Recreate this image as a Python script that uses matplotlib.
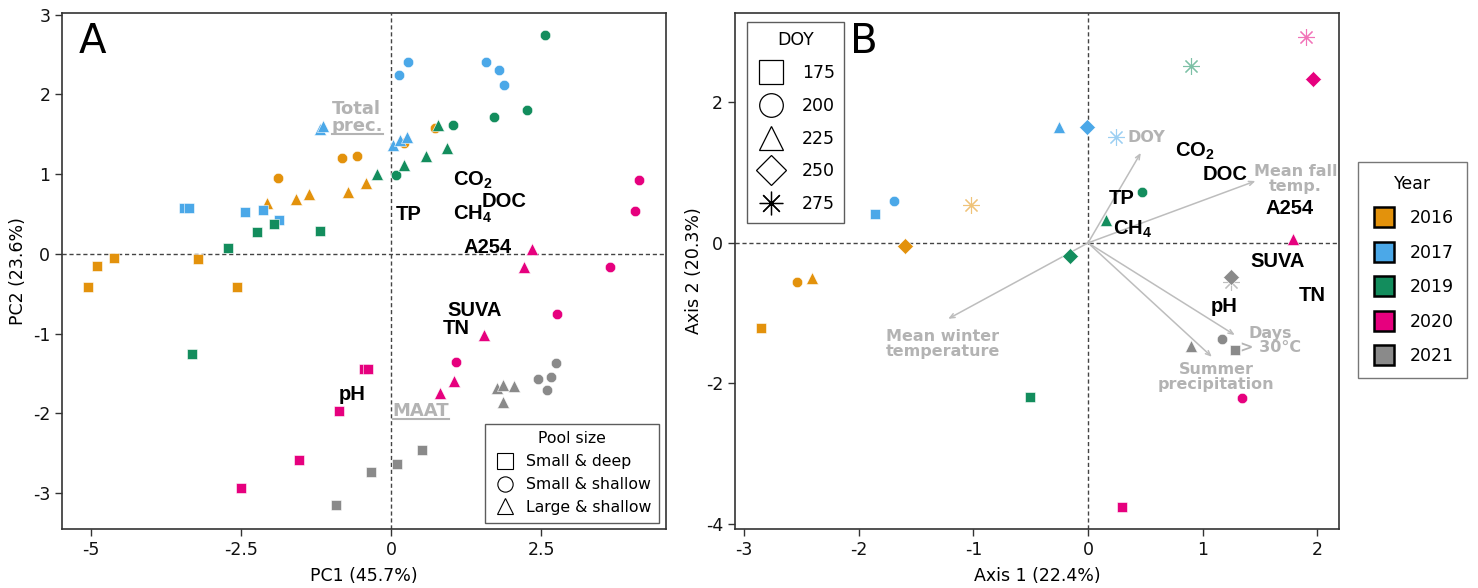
import matplotlib
matplotlib.use('Agg')
import matplotlib.pyplot as plt
from matplotlib.lines import Line2D

plt.rcParams['font.family'] = ['DejaVu Sans']
plt.rcParams['axes.unicode_minus'] = False
plt.rcParams['mathtext.fontset'] = 'custom'
plt.rcParams['mathtext.default'] = 'regular'

years = ['2016', '2017', '2019', '2020', '2021']
year_colors = ['#E3920C', '#4BA8E8', '#138D5D', '#E6007E', '#8A8A8A']

# ---- panel A: PCA scores ----
pool_sizes = ['Small & deep', 'Small & shallow', 'Large & shallow']
pool_markers = ['s', 'o', '^']
pca_year = ['2016'] * 15 + ['2017'] * 15 + ['2019'] * 15 + ['2020'] * 15 + ['2021'] * 12
pca_pool = [p for p in pool_sizes for _ in range(5)] * 4 + [p for p in pool_sizes for _ in range(4)]
pca_x = [-4.62, -4.89, -3.21, -5.04, -2.56, 0.21, 0.73, -0.82, -0.57, -1.88, -0.41, -0.71, -1.37, -1.59, -2.07,
         -3.45, -3.36, -2.44, -2.13, -1.87, 0.14, 0.29, 1.58, 1.80, 1.88, -1.18, -1.13, 0.03, 0.15, 0.27,
         -1.95, -2.23, -1.18, -2.71, -3.31, 0.09, 1.03, 1.72, 2.26, 2.57, -0.24, 0.21, 0.58, 0.94, 0.79,
         -0.45, -0.38, -0.87, -1.53, -2.50, 4.13, 4.06, 3.65, 2.77, 1.09, 2.35, 2.21, 1.55, 1.05, 0.82,
         0.52, 0.10, -0.33, -0.92, 2.74, 2.44, 2.67, 2.60, 1.76, 1.87, 2.04, 1.87]
pca_y = [-0.05, -0.15, -0.06, -0.42, -0.42, 1.39, 1.58, 1.20, 1.23, 0.95, 0.89, 0.78, 0.75, 0.69, 0.64,
         0.575, 0.575, 0.525, 0.55, 0.425, 2.24, 2.40, 2.40, 2.31, 2.12, 1.57, 1.60, 1.37, 1.43, 1.47,
         0.37, 0.28, 0.29, 0.07, -1.25, 0.99, 1.61, 1.72, 1.81, 2.74, 1.00, 1.12, 1.23, 1.33, 1.62,
         -1.44, -1.44, -1.97, -2.58, -2.93, 0.92, 0.54, -0.17, -0.75, -1.35, 0.06, -0.17, -1.02, -1.59, -1.74,
         -2.46, -2.64, -2.73, -3.15, -1.37, -1.57, -1.55, -1.71, -1.68, -1.65, -1.66, -1.86]

pca_vars = ['TP', 'CO$_2$', 'DOC', 'CH$_4$', 'A254', 'SUVA', 'TN', 'pH']
pca_var_x = [0.08, 1.03, 1.51, 1.04, 1.20, 0.94, 0.86, -0.88]
pca_var_y = [0.43, 0.86, 0.59, 0.425, 0.01, -0.78, -1.01, -1.83]
pca_env = ['Total', 'prec.', 'MAAT']
pca_env_x = [-0.99, -0.99, 0.03]
pca_env_y = [1.75, 1.54, -2.03]
pca_env_ul = [False, True, True]

# ---- panel B: ordination by DOY ----
doys = ['175', '200', '225', '250', '275']
doy_markers = ['s', 'o', '^', 'D', (8, 2, 0)]
ord_year = [y for y in years for _ in range(5)]
ord_doy = doys * 5
ord_x = [-2.85, -2.54, -2.41, -1.60, -1.02,
         -1.86, -1.69, -0.25, -0.01, 0.24,
         -0.51, 0.47, 0.16, -0.16, 0.90,
         0.30, 1.34, 1.79, 1.96, 1.90,
         1.28, 1.17, 0.90, 1.25, 1.25]
ord_y = [-1.21, -0.56, -0.50, -0.05, 0.54,
         0.41, 0.59, 1.65, 1.65, 1.51,
         -2.19, 0.72, 0.33, -0.18, 2.51,
         -3.76, -2.20, 0.05, 2.33, 2.93,
         -1.52, -1.36, -1.47, -0.49, -0.55]

ord_vars = ['CO$_2$', 'DOC', 'TP', 'CH$_4$', 'A254', 'SUVA', 'TN', 'pH']
ord_var_x = [0.76, 1.00, 0.18, 0.22, 1.55, 1.42, 1.84, 1.07]
ord_var_y = [1.23, 0.90, 0.55, 0.11, 0.41, -0.34, -0.83, -0.98]

env_names = ['DOY', 'Mean fall\ntemp.', 'Mean winter\ntemperature', 'Days\n> 30°C', 'Summer\nprecipitation']
env_x = [0.46, 1.46, -1.22, 1.28, 1.08]
env_y = [1.28, 0.88, -1.08, -1.31, -1.62]
env_lab_x = [0.34, 1.81, -1.27, 1.59, 1.12]
env_lab_y = [1.50, 0.91, -1.44, -1.39, -1.91]
env_lab_ha = ['left', 'center', 'center', 'center', 'center']

gray_txt = '#B3B3B3'
spine_col = '#333333'

fig = plt.figure(figsize=(14.78, 5.88), dpi=100)
axA = fig.add_axes([0.042, 0.1003, 0.4086, 0.8776])
axB = fig.add_axes([0.4973, 0.1003, 0.4087, 0.8776])

for ax in (axA, axB):
    for s in ax.spines.values():
        s.set_color(spine_col)
        s.set_linewidth(1.2)
    ax.tick_params(labelsize=12.5, length=5, width=1, color=spine_col, labelcolor='#111111')
    ax.axhline(0, color='#444444', lw=1, ls=(0, (3, 2)), zorder=1)
    ax.axvline(0, color='#444444', lw=1, ls=(0, (3, 2)), zorder=1)

# panel A
axA.set_xlim(-5.48, 4.58)
axA.set_ylim(-3.45, 3.02)
axA.set_xticks([-5, -2.5, 0, 2.5])
axA.set_xticklabels(['-5', '-2.5', '0', '2.5'])
axA.set_yticks([-3, -2, -1, 0, 1, 2, 3])
axA.set_xlabel('PC1 (45.7%)', fontsize=12.5, labelpad=6)
axA.set_ylabel('PC2 (23.6%)', fontsize=12.5, labelpad=4)

for yr, col in zip(years, year_colors):
    for pool, mk in zip(pool_sizes, pool_markers):
        xs = [x for x, a, b in zip(pca_x, pca_year, pca_pool) if a == yr and b == pool]
        ys = [y for y, a, b in zip(pca_y, pca_year, pca_pool) if a == yr and b == pool]
        ms = 8.5 if mk == '^' else 7.5
        axA.plot(xs, ys, ls='none', marker=mk, ms=ms, color=col, mec='white', mew=0.4, zorder=3)

for name, x, y in zip(pca_vars, pca_var_x, pca_var_y):
    axA.text(x, y, name, fontsize=14.5, fontweight='bold', family='Liberation Sans',
             va='baseline', ha='left', zorder=4)

axA.text(0.028, 0.922, 'A', transform=axA.transAxes, fontsize=29, va='baseline', ha='left')

pool_handles = [Line2D([], [], ls='none', marker=m, ms=11, mfc='none', mec='black', mew=0.8)
                for m in pool_markers]
legA = axA.legend(pool_handles, pool_sizes, title='Pool size', loc='lower right',
                  bbox_to_anchor=(0.988, 0.012), borderaxespad=0, fancybox=False,
                  edgecolor=spine_col, fontsize=11.3, title_fontsize=11.3, labelspacing=0.5,
                  handletextpad=0.5, borderpad=0.5, handlelength=1.6)
legA.get_frame().set_linewidth(1)

# panel B
axB.set_xlim(-3.08, 2.19)
axB.set_ylim(-4.07, 3.27)
axB.set_xticks([-3, -2, -1, 0, 1, 2])
axB.set_yticks([-4, -2, 0, 2])
axB.set_xlabel('Axis 1 (22.4%)', fontsize=12.5, labelpad=6)
axB.set_ylabel('Axis 2 (20.3%)', fontsize=12.5, labelpad=2)

for ex, ey in zip(env_x, env_y):
    axB.annotate('', xy=(ex, ey), xytext=(0, 0), zorder=2,
                 arrowprops=dict(arrowstyle='->,head_length=0.35,head_width=0.15',
                                 color='#BDBDBD', lw=1.1, shrinkA=0, shrinkB=0))
for name, x, y, ha in zip(env_names, env_lab_x, env_lab_y, env_lab_ha):
    axB.text(x, y, name, fontsize=11.5, fontweight='bold', color=gray_txt, ha=ha,
             va='center', linespacing=0.95, zorder=2)

for doy, mk in zip(doys[::-1], doy_markers[::-1]):
    for yr, col in zip(years, year_colors):
        xs = [x for x, a, b in zip(ord_x, ord_year, ord_doy) if a == yr and b == doy]
        ys = [y for y, a, b in zip(ord_y, ord_year, ord_doy) if a == yr and b == doy]
        if doy == '275':
            axB.plot(xs, ys, ls='none', marker=mk, ms=12, color=col, mew=0.8, alpha=0.55, zorder=3)
        else:
            ms = {'s': 7, 'o': 7.5, '^': 8.5, 'D': 8}[mk]
            axB.plot(xs, ys, ls='none', marker=mk, ms=ms, color=col, mec='white', mew=0.4, zorder=3)

for name, x, y in zip(ord_vars, ord_var_x, ord_var_y):
    axB.text(x, y, name, fontsize=14.5, fontweight='bold', family='Liberation Sans',
             va='baseline', ha='left', zorder=4)

axB.text(0.19, 0.922, 'B', transform=axB.transAxes, fontsize=29, va='baseline', ha='left')

doy_handles = [Line2D([], [], ls='none', marker=m, ms=17 if m != 'D' else 15, mfc='none',
                      mec='black', mew=0.9, color='black')
               for m in doy_markers]
legB = axB.legend(doy_handles, doys, title='DOY', loc='upper left', bbox_to_anchor=(0.02, 0.983),
                  borderaxespad=0, fancybox=False, edgecolor=spine_col, fontsize=12.5,
                  title_fontsize=12.5, labelspacing=0.85, handletextpad=1.0, borderpad=0.55,
                  handlelength=1.6)
legB.get_frame().set_linewidth(1)

year_handles = [Line2D([], [], ls='none', marker='s', ms=14, mfc=c, mec='black', mew=1.8)
                for c in year_colors]
legY = fig.legend(year_handles, years, title='Year', loc='center left', bbox_to_anchor=(0.919, 0.541),
                  borderaxespad=0, fancybox=False, edgecolor='#555555', fontsize=12.5,
                  title_fontsize=12.5, labelspacing=0.95, handletextpad=0.7, borderpad=0.75,
                  handlelength=1.5)
legY.get_frame().set_linewidth(1)

# gray environmental labels in panel A, some underlined
fig.canvas.draw()
for name, x, y, ul in zip(pca_env, pca_env_x, pca_env_y, pca_env_ul):
    t = axA.text(x, y, name, fontsize=13, fontweight='bold', color=gray_txt, va='baseline', ha='left', zorder=2)
    if ul:
        fig.canvas.draw()
        bb = t.get_window_extent()
        inv = axA.transData.inverted()
        (x0, y0), (x1, _) = inv.transform([(bb.x0, bb.y0 + 1), (bb.x1, bb.y0 + 1)])
        axA.plot([x0, x1], [y0, y0], color=gray_txt, lw=1.5, zorder=2)

fig.savefig('out.png', dpi=100)
